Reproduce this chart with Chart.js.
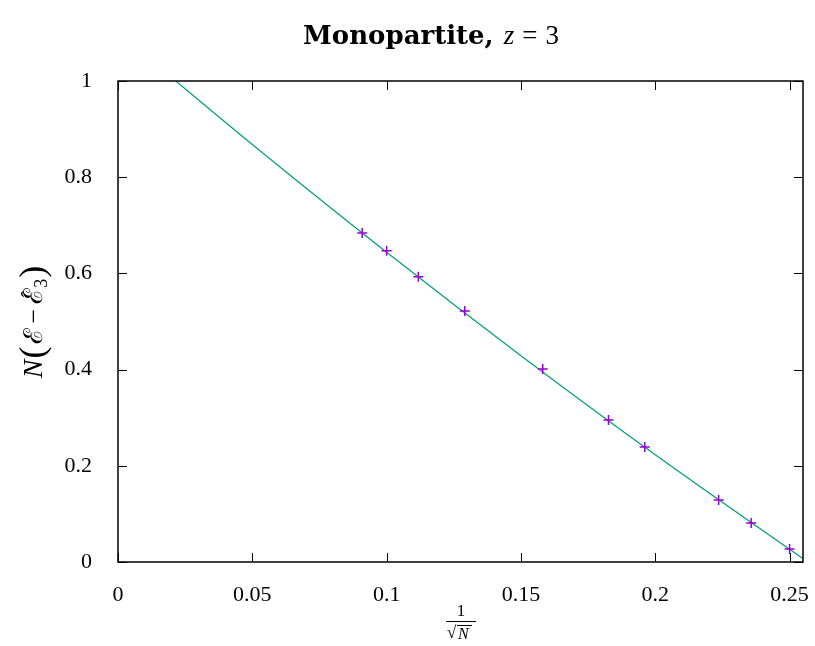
<!DOCTYPE html>
<html lang="en">
<head>
<meta charset="UTF-8">
<title>Monopartite, z = 3</title>
<script src="https://cdn.jsdelivr.net/npm/chart.js"></script>
<style>
  html, body { margin: 0; padding: 0; background: #fff; }
  #wrap { width: 815px; height: 646px; }
</style>
</head>
<body>
<div id="wrap"><canvas id="chart" width="815" height="646"></canvas></div>
<script>
// measured points: x = 1/sqrt(N), y = N (E - E3hat)
const invSqrtN = [0.0909, 0.1, 0.1118, 0.1291, 0.1581, 0.1826, 0.1961, 0.2236, 0.2357, 0.25];
const energyGap = [0.684, 0.647, 0.593, 0.522, 0.401, 0.295, 0.239, 0.129, 0.081, 0.027];
// fit curve
const fitX = [0.0215, 0.05, 0.1, 0.15, 0.2, 0.255];
const fitY = [1, 0.868, 0.644, 0.429, 0.223, 0.007];
const xTicks = [0, 0.05, 0.1, 0.15, 0.2, 0.25];
const yTicks = [0, 0.2, 0.4, 0.6, 0.8, 1];

const serif = '"Liberation Serif", "DejaVu Serif", serif';

// draw a row of text pieces centred on cx
function drawRuns(ctx, runs, cx, baseline) {
    let total = 0;
    runs.forEach(r => {
        ctx.font = r.font;
        r.w = ctx.measureText(r.text).width;
        total += r.w + (r.gap || 0);
    });
    let pos = cx - total / 2;
    runs.forEach(r => {
        ctx.font = r.font;
        ctx.fillText(r.text, pos, baseline + (r.dy || 0));
        r.x = pos;
        pos += r.w + (r.gap || 0);
    });
    return runs;
}

const frame = {
    id: 'frame',
    afterDraw(chart) {
        const { ctx, chartArea: a, scales: { x, y } } = chart;
        ctx.save();
        ctx.strokeStyle = '#000';
        ctx.lineWidth = 1.5;
        ctx.strokeRect(a.left, a.top, a.right - a.left, a.bottom - a.top);

        // gnuplot style ticks, inside and mirrored
        ctx.lineWidth = 1;
        ctx.beginPath();
        xTicks.forEach(v => {
            const px = Math.round(x.getPixelForValue(v)) + 0.5;
            ctx.moveTo(px, a.bottom); ctx.lineTo(px, a.bottom - 9);
            ctx.moveTo(px, a.top); ctx.lineTo(px, a.top + 9);
        });
        yTicks.forEach(v => {
            const py = Math.round(y.getPixelForValue(v)) + 0.5;
            ctx.moveTo(a.left, py); ctx.lineTo(a.left + 9, py);
            ctx.moveTo(a.right, py); ctx.lineTo(a.right - 9, py);
        });
        ctx.stroke();

        ctx.fillStyle = '#000';
        ctx.textAlign = 'left';
        ctx.textBaseline = 'alphabetic';

        // title
        drawRuns(ctx, [
            { text: 'Monopartite,', font: 'bold 26px "DejaVu Serif", serif', gap: 10 },
            { text: 'z', font: 'italic 27px ' + serif, gap: 8 },
            { text: '=', font: '27px ' + serif, gap: 8 },
            { text: '3', font: '27px ' + serif }
        ], 431, 44);

        // y label, rotated
        ctx.save();
        ctx.translate(32, 322);
        ctx.rotate(-Math.PI / 2);
        const yl = drawRuns(ctx, [
            { text: 'N', font: 'italic 28px ' + serif, gap: 1 },
            { text: '(', font: '36px ' + serif, dy: 2, gap: 2 },
            { text: 'ℰ', font: '26px "DejaVu Serif", serif', gap: 5 },
            { text: '−', font: '26px ' + serif, gap: 5 },
            { text: 'ℰ', font: '26px "DejaVu Serif", serif' },
            { text: '3', font: '18px ' + serif, dy: 5, gap: 1 },
            { text: ')', font: '36px ' + serif, dy: 2 }
        ], 0, 10);
        ctx.font = '20px ' + serif;
        ctx.textAlign = 'center';
        ctx.fillText('ˆ', yl[4].x + yl[4].w / 2 + 2, 10 - 6);
        ctx.restore();

        // x label: 1 / sqrt(N)
        const cx = 461;
        ctx.textAlign = 'center';
        ctx.font = '17px ' + serif;
        ctx.fillText('1', cx, 616);
        ctx.lineWidth = 1;
        ctx.beginPath();
        ctx.moveTo(cx - 15, 621.5); ctx.lineTo(cx + 15, 621.5);
        ctx.stroke();
        ctx.textAlign = 'left';
        ctx.font = '17px ' + serif;
        ctx.fillText('√', cx - 14, 638);
        ctx.font = 'italic 16px ' + serif;
        ctx.fillText('N', cx - 3, 639);
        ctx.beginPath();
        ctx.moveTo(cx - 4, 625.5); ctx.lineTo(cx + 11, 625.5);
        ctx.stroke();
        ctx.restore();
    }
};

new Chart(document.getElementById('chart'), {
    type: 'scatter',
    data: {
        datasets: [{
            label: 'data',
            data: invSqrtN.map((v, i) => ({ x: v, y: energyGap[i] })),
            pointStyle: 'cross',
            pointRadius: 5,
            pointBorderWidth: 1.5,
            borderColor: '#9400d3',
            backgroundColor: '#9400d3',
            showLine: false
        }, {
            label: 'fit',
            data: fitX.map((v, i) => ({ x: v, y: fitY[i] })),
            showLine: true,
            borderColor: '#009e73',
            borderWidth: 1.2,
            pointRadius: 0,
            cubicInterpolationMode: 'monotone'
        }]
    },
    options: {
        responsive: false,
        animation: false,
        devicePixelRatio: 1,
        layout: { padding: { top: 81, right: 12, left: 0, bottom: 0 } },
        plugins: {
            legend: { display: false },
            tooltip: { enabled: false }
        },
        scales: {
            x: {
                type: 'linear',
                min: 0,
                max: 0.255,
                afterBuildTicks: s => { s.ticks = xTicks.map(v => ({ value: v })); },
                afterFit: s => { s.height = 84; s.paddingLeft = 0; s.paddingRight = 0; },
                grid: { display: false },
                border: { display: false },
                ticks: {
                    color: '#000',
                    font: { family: serif, size: 22 },
                    padding: 12,
                    maxRotation: 0,
                    callback: v => String(+v.toFixed(2))
                }
            },
            y: {
                type: 'linear',
                min: 0,
                max: 1,
                afterBuildTicks: s => { s.ticks = yTicks.map(v => ({ value: v })); },
                afterFit: s => { s.width = 118; s.paddingTop = 0; s.paddingBottom = 0; },
                grid: { display: false },
                border: { display: false },
                ticks: {
                    color: '#000',
                    font: { family: serif, size: 22 },
                    padding: 18,
                    callback: v => String(+v.toFixed(1))
                }
            }
        }
    },
    plugins: [frame]
});
</script>
</body>
</html>
